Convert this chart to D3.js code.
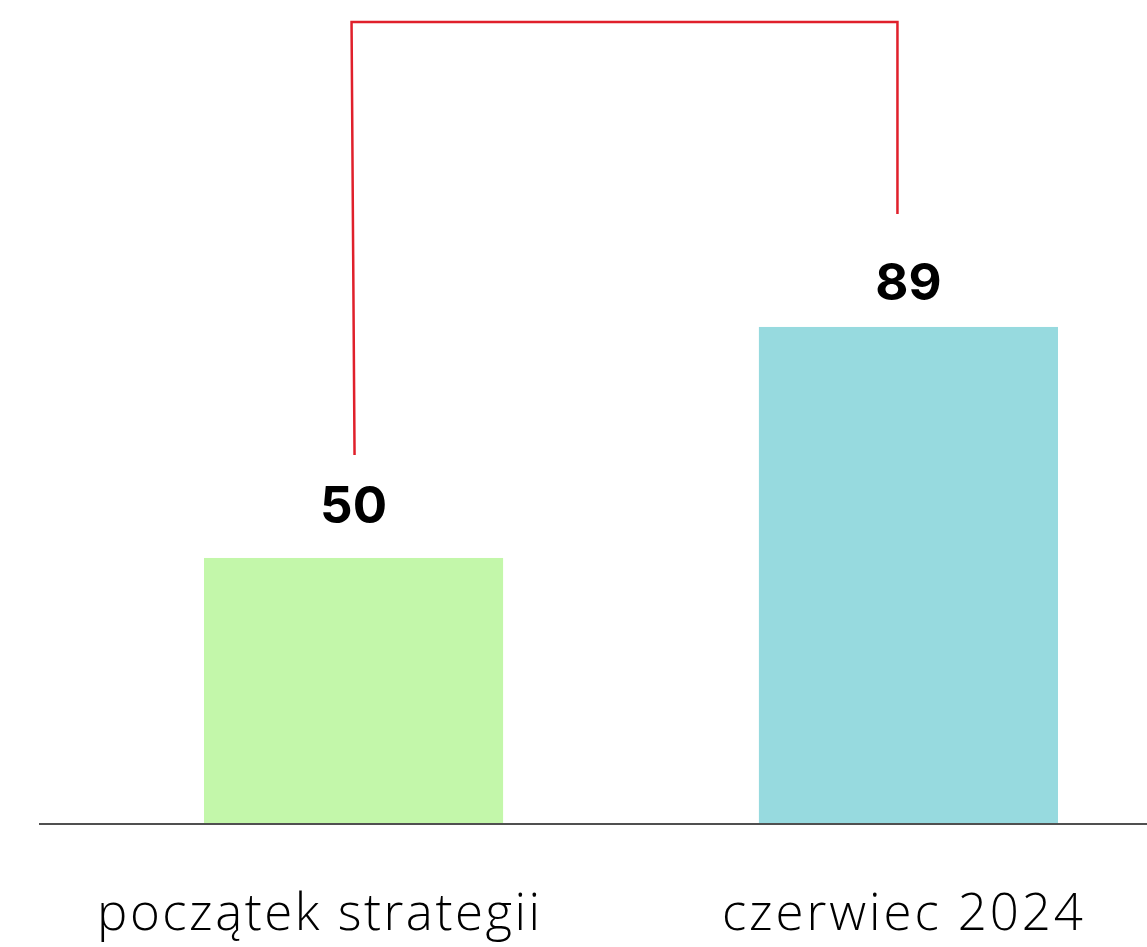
<!DOCTYPE html>
<html>
<head>
<meta charset="utf-8">
<script src="https://cdn.jsdelivr.net/npm/d3@7"></script>
<style>
  html, body { margin: 0; padding: 0; background: #fff; }
  svg { display: block; }
</style>
</head>
<body>
<svg id="chart" width="1147" height="947"></svg>
<script>
// data
const categories = ['początek strategii', 'czerwiec 2024'];
const values = [50, 89];
const barColors = ['#c3f7aa', '#97dadf'];

const width = 1147;
const height = 947;
const baseY = 823;

const svg = d3.select('#chart');

// scales - the picture's bars don't start from zero, so the domain floor is ~5
const x = d3.scaleBand()
    .domain(categories)
    .range([204, 1058])
    .paddingInner(0.461)
    .paddingOuter(0);

const y = d3.scaleLinear()
    .domain([5.26, 100])
    .range([baseY, 261.8]);

// bars
svg.append('g')
    .selectAll('rect')
    .data(values)
    .join('rect')
    .attr('x', (d, i) => x(categories[i]))
    .attr('y', d => y(d))
    .attr('width', x.bandwidth())
    .attr('height', d => baseY - y(d))
    .attr('fill', (d, i) => barColors[i]);

// baseline
svg.append('line')
    .attr('x1', 39)
    .attr('x2', width)
    .attr('y1', baseY + 1)
    .attr('y2', baseY + 1)
    .attr('stroke', '#505050')
    .attr('stroke-width', 2);

// category labels via axis (stretched to the reference's wide geometric face)
const labelWidths = [443, 361];
const axis = svg.append('g')
    .attr('transform', `translate(0,${baseY})`)
    .call(d3.axisBottom(x).tickSize(0).tickPadding(0));
axis.select('.domain').remove();
axis.selectAll('text')
    .attr('dy', null)
    .attr('y', 107)
    .attr('dx', (d, i) => i === 0 ? -35 : -6)
    .attr('textLength', (d, i) => labelWidths[i])
    .attr('lengthAdjust', 'spacing')
    .attr('fill', '#000')
    .style('font-family', '"Open Sans", Lato, sans-serif')
    .style('font-weight', 300)
    .style('font-size', '51px');

// value labels
const labelGap = [35, 27];
svg.append('g')
    .selectAll('text')
    .data(values)
    .join('text')
    .attr('x', (d, i) => x(categories[i]) + x.bandwidth() / 2)
    .attr('y', (d, i) => y(d) - labelGap[i])
    .attr('text-anchor', 'middle')
    .style('font-family', 'Inter, "DejaVu Sans", sans-serif')
    .style('font-weight', 700)
    .style('font-size', '51px')
    .attr('fill', '#000')
    .text(d => d);

// red bracket linking the two bars
const bracketTop = 22;
const bracketGap = [103, 113];
const cx = categories.map(c => x(c) + x.bandwidth() / 2);
const bracket = d3.line();
svg.append('path')
    .attr('d', bracket([
        [cx[0] + 1, y(values[0]) - bracketGap[0]],
        [cx[0] - 2, bracketTop],
        [cx[1] - 11, bracketTop],
        [cx[1] - 11, y(values[1]) - bracketGap[1]]
    ]))
    .attr('fill', 'none')
    .attr('stroke', '#e0202b')
    .attr('stroke-width', 2.5);
</script>
</body>
</html>
